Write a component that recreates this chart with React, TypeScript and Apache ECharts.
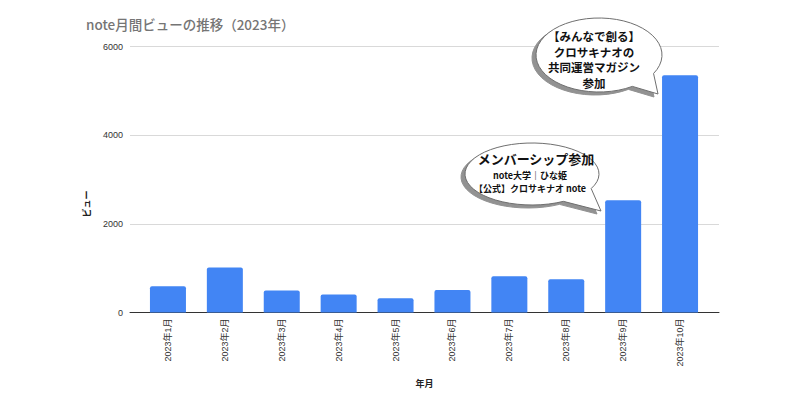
import React, { useEffect, useRef } from "react";
import * as echarts from "echarts";

const categories = [
  "2023年1月", "2023年2月", "2023年3月", "2023年4月", "2023年5月",
  "2023年6月", "2023年7月", "2023年8月", "2023年9月", "2023年10月",
];
const views = [593, 1015, 496, 406, 322, 510, 818, 751, 2532, 5351];
const yMin = 0;
const yMax = 6000;
const yStep = 2000;

const titleText = "note月間ビューの推移（2023年）";
const yName = "ビュー";
const xName = "年月";
const bubble1Lines = ["【みんなで創る】", "クロサキナオの", "共同運営マガジン", "参加"];
const bubble2Title = "メンバーシップ参加";
const bubble2Lines = ["note大学｜ひな姫", "【公式】クロサキナオ note"];

const LATIN = "'Liberation Sans', Arial, 'Noto Sans CJK JP', sans-serif";
const JP = "'Noto Sans CJK JP', 'Liberation Sans', sans-serif";

function bubblePath(
  cx: number, cy: number, rx: number, ry: number,
  a1: number, a2: number, tx: number, ty: number
): string {
  const r1 = (a1 * Math.PI) / 180;
  const r2 = (a2 * Math.PI) / 180;
  const p1x = cx + rx * Math.cos(r1);
  const p1y = cy + ry * Math.sin(r1);
  const p2x = cx + rx * Math.cos(r2);
  const p2y = cy + ry * Math.sin(r2);
  return `M${p2x.toFixed(2)} ${p2y.toFixed(2)} A${rx} ${ry} 0 1 1 ${p1x.toFixed(2)} ${p1y.toFixed(2)} L${tx} ${ty} Z`;
}

export default function App() {
  const ref = useRef<HTMLDivElement>(null);

  useEffect(() => {
    if (!ref.current) return;
    echarts.graphic.registerShape(
      "bubble1",
      echarts.graphic.extendPath(bubblePath(599, 55, 63, 37, 30, 58, 658, 94), {})
    );
    echarts.graphic.registerShape(
      "bubble2",
      echarts.graphic.extendPath(bubblePath(532, 174, 67, 31, 28, 62, 601, 211), {})
    );
    const chart = echarts.init(ref.current, null, { renderer: "svg" });

    const shadowStyle = { fill: "#929292", stroke: "#929292", lineWidth: 1 };
    const bodyStyle = { fill: "#ffffff", stroke: "#6f6f6f", lineWidth: 1 };

    const b1Text = bubble1Lines.map((t, i) => ({
      type: "text",
      x: 594,
      y: 36 + i * 15.5,
      z: 110,
      style: {
        text: t,
        fill: "#111",
        font: `bold 11.5px ${JP}`,
        textAlign: "center",
        textVerticalAlign: "middle",
      },
    }));
    const b2Text = [
      {
        type: "text",
        x: 536,
        y: 158.5,
        z: 110,
        style: {
          text: bubble2Title,
          fill: "#111",
          font: `bold 13px ${JP}`,
          textAlign: "center",
          textVerticalAlign: "middle",
        },
      },
      ...bubble2Lines.map((t, i) => ({
        type: "text",
        x: 530,
        y: 175 + i * 13,
        z: 110,
        style: {
          text: t,
          fill: "#111",
          font: `bold 9px ${JP}`,
          textAlign: "center",
          textVerticalAlign: "middle",
        },
      })),
    ];

    chart.setOption({
      animation: false,
      backgroundColor: "#ffffff",
      title: {
        text: titleText,
        left: 81,
        top: 12,
        textStyle: {
          fontFamily: JP,
          fontSize: 13.5,
          fontWeight: 500,
          color: "#757575",
        },
      },
      grid: [
        { left: 139.5, width: 569, top: 46.5, height: 266, containLabel: false },
        { left: 130, width: 589, top: 46.5, height: 266, containLabel: false },
      ],
      xAxis: [
        {
          type: "category",
          gridIndex: 0,
          data: categories,
          axisLine: { show: false },
          axisTick: { show: false },
          axisLabel: {
            rotate: 90,
            margin: 6,
            fontSize: 9,
            color: "#333",
            fontFamily: LATIN,
            interval: 0,
          },
        },
        {
          type: "value",
          gridIndex: 1,
          min: 0,
          max: 1,
          axisLine: { show: true, lineStyle: { color: "#333", width: 1 } },
          axisTick: { show: false },
          axisLabel: { show: false },
          splitLine: { show: false },
          name: xName,
          nameLocation: "middle",
          nameGap: 66,
          nameTextStyle: {
            fontFamily: JP,
            fontSize: 9,
            fontWeight: "bold",
            color: "#222",
          },
        },
      ],
      yAxis: [
        {
          type: "value",
          gridIndex: 0,
          min: yMin,
          max: yMax,
          interval: yStep,
          show: false,
          splitLine: { show: false },
        },
        {
          type: "value",
          gridIndex: 1,
          min: yMin,
          max: yMax,
          interval: yStep,
          axisLine: { show: false },
          axisTick: { show: false },
          axisLabel: {
            margin: 7,
            fontSize: 9,
            color: "#333",
            fontFamily: LATIN,
            formatter: (v: number) => String(v),
          },
          splitLine: { show: true, lineStyle: { color: "#d9d9d9", width: 1 } },
        },
      ],
      series: [
        {
          type: "bar",
          xAxisIndex: 0,
          yAxisIndex: 0,
          data: views,
          barWidth: 36,
          itemStyle: { color: "#4285F4", borderRadius: [2, 2, 0, 0] },
          z: 3,
        },
      ],
      graphic: [
        {
          type: "text",
          x: 86,
          y: 204,
          rotation: Math.PI / 2,
          z: 100,
          style: {
            text: yName,
            fill: "#222",
            font: `bold 9px ${JP}`,
            textAlign: "center",
            textVerticalAlign: "middle",
          },
        },
        { type: "bubble1", x: -4, y: 3, z: 100, style: shadowStyle },
        { type: "bubble1", x: 0, y: 0, z: 101, style: bodyStyle },
        ...b1Text,
        { type: "bubble2", x: -4, y: 3, z: 100, style: shadowStyle },
        { type: "bubble2", x: 0, y: 0, z: 101, style: bodyStyle },
        ...b2Text,
      ],
    });

    return () => {
      chart.dispose();
    };
  }, []);

  return (
    <div
      ref={ref}
      style={{ position: "fixed", left: 0, top: 0, width: 800, height: 400 }}
    />
  );
}
